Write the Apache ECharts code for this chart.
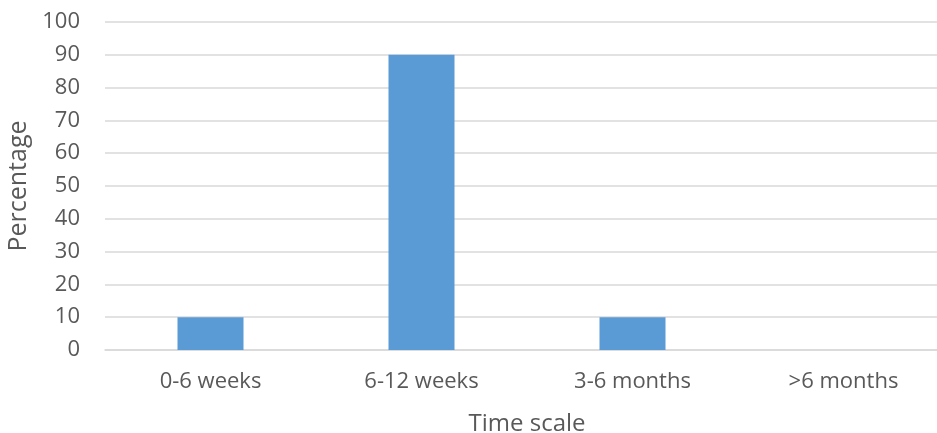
<!DOCTYPE html>
<html>
<head>
<meta charset="utf-8">
<script src="https://cdn.jsdelivr.net/npm/echarts@6/dist/echarts.min.js"></script>
<style>
  html, body { margin: 0; padding: 0; background: #ffffff; }
  #chart { width: 937px; height: 433px; }
</style>
</head>
<body>
<div id="chart"></div>
<script>
// Time to recovery, share of cases per period
const categories = ['0-6 weeks', '6-12 weeks', '3-6 months', '>6 months'];
const percentages = [10, 90, 10, 0];
const yTicks = { min: 0, max: 100, interval: 10 };

const textColor = '#595959';
const fontFamily = '"Open Sans", Lato, "Liberation Sans", sans-serif';

const chart = echarts.init(document.getElementById('chart'), null, { renderer: 'canvas' });
chart.setOption({
  animation: false,
  backgroundColor: '#ffffff',
  // plot band runs a little past the right edge of the canvas
  grid: { left: 105, top: 22, width: 844, height: 328, containLabel: false, outerBoundsMode: 'none' },
  xAxis: {
    type: 'category',
    data: categories,
    name: 'Time scale',
    nameLocation: 'middle',
    nameGap: 62,
    nameTextStyle: { color: textColor, fontSize: 24, fontFamily: fontFamily, padding: [0, 0, 0, 0] },
    axisLine: { show: true, lineStyle: { color: '#d9d9d9', width: 1.5 } },
    axisTick: { show: false },
    axisLabel: { color: textColor, fontSize: 22, fontFamily: fontFamily, margin: 21 }
  },
  yAxis: {
    type: 'value',
    min: yTicks.min,
    max: yTicks.max,
    interval: yTicks.interval,
    name: 'Percentage',
    nameLocation: 'middle',
    nameGap: 74,
    nameRotate: 90,
    nameTextStyle: { color: textColor, fontSize: 25, fontFamily: fontFamily },
    axisLine: { show: false },
    axisTick: { show: false },
    axisLabel: { color: textColor, fontSize: 22, fontFamily: fontFamily, margin: 25 },
    splitLine: { show: true, lineStyle: { color: '#d9d9d9', width: 1.5 } }
  },
  series: [{
    type: 'bar',
    data: percentages,
    barWidth: 66,
    itemStyle: { color: '#5b9bd5' }
  }]
});
</script>
</body>
</html>
